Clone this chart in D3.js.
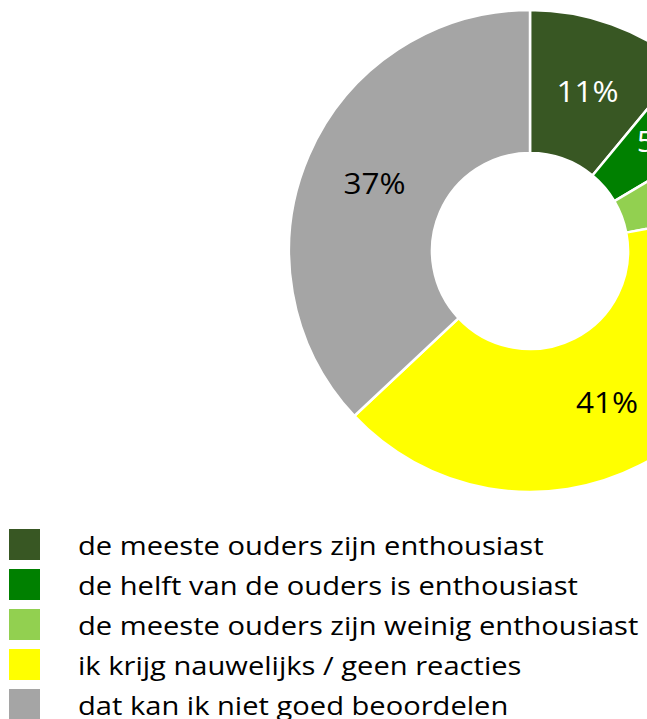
<!DOCTYPE html>
<html>
<head>
<meta charset="utf-8">
<script src="https://cdn.jsdelivr.net/npm/d3@7"></script>
<style>
  body { margin: 0; background: #fff; }
  svg { display: block; font-family: "Open Sans", sans-serif; }
</style>
</head>
<body>
<div id="chart"></div>
<script>
const categories = [
    "de meeste ouders zijn enthousiast",
    "de helft van de ouders is enthousiast",
    "de meeste ouders zijn weinig enthousiast",
    "ik krijg nauwelijks / geen reacties",
    "dat kan ik niet goed beoordelen"
];
const values = [11, 5.5, 5.5, 41, 37];
const labels = ["11%", "5%", "5%", "41%", "37%"];
const sliceColors = ["#385723", "#008000", "#92d050", "#ffff00", "#a5a5a5"];
const labelColors = ["#fff", "#fff", "#000", "#000", "#000"];

const width = 647, height = 719;
const cx = 530, cy = 251;
const outerR = 241, innerR = 98;

const svg = d3.select("#chart").append("svg")
    .attr("width", width)
    .attr("height", height);

const pie = d3.pie().sort(null).value(d => d);
const arc = d3.arc().innerRadius(innerR).outerRadius(outerR);
const arcs = pie(values);

const g = svg.append("g")
    .attr("transform", `translate(${cx},${cy})`);

g.selectAll("path")
    .data(arcs)
    .join("path")
    .attr("d", arc)
    .attr("fill", (d, i) => sliceColors[i])
    .attr("stroke", "#fff")
    .attr("stroke-width", 2.5);

// labels a bit wider than Open Sans normally draws
g.selectAll("text")
    .data(arcs)
    .join("text")
    .attr("transform", d => `translate(${arc.centroid(d)}) scale(1.05,1)`)
    .attr("text-anchor", "middle")
    .attr("dy", "0.36em")
    .attr("font-size", 30)
    .attr("fill", (d, i) => labelColors[i])
    .text((d, i) => labels[i]);

// legend
const legend = svg.append("g")
    .attr("transform", "translate(9,529)");

const item = legend.selectAll("g")
    .data(categories)
    .join("g")
    .attr("transform", (d, i) => `translate(0,${i * 40})`);

item.append("rect")
    .attr("width", 31)
    .attr("height", 31)
    .attr("fill", (d, i) => sliceColors[i]);

item.append("text")
    .attr("transform", "translate(69,26) scale(1.12,1)")
    .attr("font-size", 26)
    .attr("fill", "#000")
    .text(d => d);
</script>
</body>
</html>
